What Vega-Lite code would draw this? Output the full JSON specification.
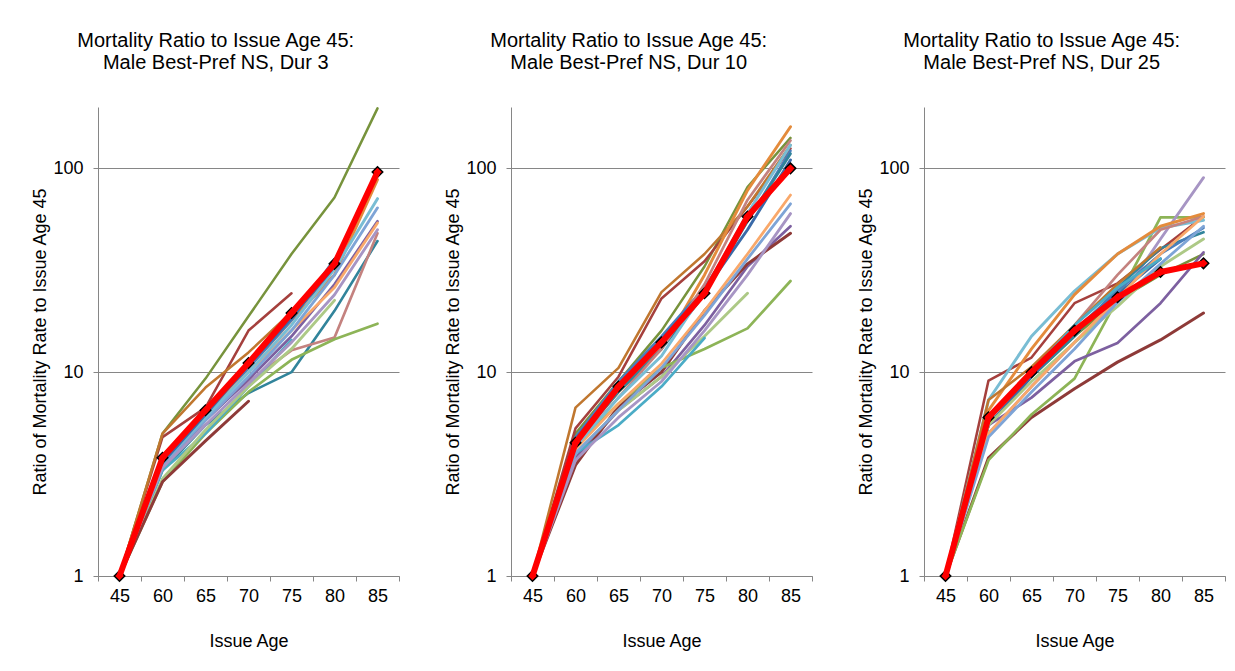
{
  "$schema": "https://vega.github.io/schema/vega-lite/v6.json",
  "padding": {"left": 31, "top": 31, "right": 5, "bottom": 5},
  "background": "white",
  "datasets": {
    "m": [
      {"d":3,"s":"X","a":45,"v":1},{"d":3,"s":"X","a":60,"v":3.8},{"d":3,"s":"X","a":65,"v":6.5},{"d":3,"s":"X","a":70,"v":11.1},{"d":3,"s":"X","a":75,"v":19.5},{"d":3,"s":"X","a":80,"v":34},{"d":3,"s":"X","a":85,"v":96},
      {"d":3,"s":"A","a":45,"v":1},{"d":3,"s":"A","a":60,"v":5.0},{"d":3,"s":"A","a":65,"v":9.3},{"d":3,"s":"A","a":70,"v":18.8},{"d":3,"s":"A","a":75,"v":38},{"d":3,"s":"A","a":80,"v":72},{"d":3,"s":"A","a":85,"v":197},
      {"d":3,"s":"B","a":45,"v":1},{"d":3,"s":"B","a":60,"v":4.8},{"d":3,"s":"B","a":65,"v":6.7},{"d":3,"s":"B","a":70,"v":16},{"d":3,"s":"B","a":75,"v":24.4},
      {"d":3,"s":"C","a":45,"v":1},{"d":3,"s":"C","a":60,"v":5.0},{"d":3,"s":"C","a":65,"v":8.4},{"d":3,"s":"C","a":70,"v":12.5},{"d":3,"s":"C","a":75,"v":19.7},{"d":3,"s":"C","a":80,"v":30},
      {"d":3,"s":"O","a":45,"v":1},{"d":3,"s":"O","a":60,"v":3.9},{"d":3,"s":"O","a":65,"v":6.5},{"d":3,"s":"O","a":70,"v":10.5},{"d":3,"s":"O","a":75,"v":18},{"d":3,"s":"O","a":80,"v":30},{"d":3,"s":"O","a":85,"v":88},
      {"d":3,"s":"D","a":45,"v":1},{"d":3,"s":"D","a":60,"v":3.6},{"d":3,"s":"D","a":65,"v":6.0},{"d":3,"s":"D","a":70,"v":10.5},{"d":3,"s":"D","a":75,"v":18},{"d":3,"s":"D","a":80,"v":36},
      {"d":3,"s":"E","a":45,"v":1},{"d":3,"s":"E","a":60,"v":3.3},{"d":3,"s":"E","a":65,"v":5.5},{"d":3,"s":"E","a":70,"v":7.9},{"d":3,"s":"E","a":75,"v":10},{"d":3,"s":"E","a":80,"v":20},{"d":3,"s":"E","a":85,"v":44},
      {"d":3,"s":"F","a":45,"v":1},{"d":3,"s":"F","a":60,"v":3.5},{"d":3,"s":"F","a":65,"v":6.2},{"d":3,"s":"F","a":70,"v":9},{"d":3,"s":"F","a":75,"v":12.8},{"d":3,"s":"F","a":80,"v":14.8},{"d":3,"s":"F","a":85,"v":48},
      {"d":3,"s":"G","a":45,"v":1},{"d":3,"s":"G","a":60,"v":3.4},{"d":3,"s":"G","a":65,"v":5.8},{"d":3,"s":"G","a":70,"v":9.2},{"d":3,"s":"G","a":75,"v":15},{"d":3,"s":"G","a":80,"v":27},{"d":3,"s":"G","a":85,"v":55},
      {"d":3,"s":"H","a":45,"v":1},{"d":3,"s":"H","a":60,"v":2.9},{"d":3,"s":"H","a":65,"v":5.0},{"d":3,"s":"H","a":70,"v":8.0},{"d":3,"s":"H","a":75,"v":11.5},{"d":3,"s":"H","a":80,"v":14.5},{"d":3,"s":"H","a":85,"v":17.3},
      {"d":3,"s":"I","a":45,"v":1},{"d":3,"s":"I","a":60,"v":3.3},{"d":3,"s":"I","a":65,"v":5.0},{"d":3,"s":"I","a":70,"v":8.5},{"d":3,"s":"I","a":75,"v":14.4},
      {"d":3,"s":"J","a":45,"v":1},{"d":3,"s":"J","a":60,"v":3.7},{"d":3,"s":"J","a":65,"v":6.2},{"d":3,"s":"J","a":70,"v":10},{"d":3,"s":"J","a":75,"v":16},{"d":3,"s":"J","a":80,"v":26},{"d":3,"s":"J","a":85,"v":54},
      {"d":3,"s":"K","a":45,"v":1},{"d":3,"s":"K","a":60,"v":3.5},{"d":3,"s":"K","a":65,"v":5.8},{"d":3,"s":"K","a":70,"v":9.5},{"d":3,"s":"K","a":75,"v":16},{"d":3,"s":"K","a":80,"v":30},{"d":3,"s":"K","a":85,"v":64},
      {"d":3,"s":"P","a":45,"v":1},{"d":3,"s":"P","a":60,"v":3.6},{"d":3,"s":"P","a":65,"v":6},{"d":3,"s":"P","a":70,"v":10},{"d":3,"s":"P","a":75,"v":17},{"d":3,"s":"P","a":80,"v":32},{"d":3,"s":"P","a":85,"v":71},
      {"d":3,"s":"M","a":45,"v":1},{"d":3,"s":"M","a":60,"v":3.0},{"d":3,"s":"M","a":65,"v":5.2},{"d":3,"s":"M","a":70,"v":8.5},{"d":3,"s":"M","a":75,"v":13},{"d":3,"s":"M","a":80,"v":22.5},
      {"d":3,"s":"N","a":45,"v":1},{"d":3,"s":"N","a":60,"v":3.6},{"d":3,"s":"N","a":65,"v":6.2},{"d":3,"s":"N","a":70,"v":10.8},{"d":3,"s":"N","a":75,"v":18.5},{"d":3,"s":"N","a":80,"v":33},
      {"d":3,"s":"Q","a":45,"v":1},{"d":3,"s":"Q","a":60,"v":2.9},{"d":3,"s":"Q","a":65,"v":4.6},{"d":3,"s":"Q","a":70,"v":7.2},
      {"d":3,"s":"L","a":45,"v":1},{"d":3,"s":"L","a":60,"v":3.4},{"d":3,"s":"L","a":65,"v":5.5},{"d":3,"s":"L","a":70,"v":8.8},{"d":3,"s":"L","a":75,"v":14},{"d":3,"s":"L","a":80,"v":24},{"d":3,"s":"L","a":85,"v":50},

      {"d":10,"s":"X","a":45,"v":1},{"d":10,"s":"X","a":60,"v":4.5},{"d":10,"s":"X","a":65,"v":8.5},{"d":10,"s":"X","a":70,"v":14},{"d":10,"s":"X","a":75,"v":24.4},{"d":10,"s":"X","a":80,"v":58},{"d":10,"s":"X","a":85,"v":100},
      {"d":10,"s":"A","a":45,"v":1},{"d":10,"s":"A","a":60,"v":5.0},{"d":10,"s":"A","a":65,"v":9},{"d":10,"s":"A","a":70,"v":16},{"d":10,"s":"A","a":75,"v":33},{"d":10,"s":"A","a":80,"v":81},{"d":10,"s":"A","a":85,"v":141},
      {"d":10,"s":"B","a":45,"v":1},{"d":10,"s":"B","a":60,"v":5.3},{"d":10,"s":"B","a":65,"v":9.5},{"d":10,"s":"B","a":70,"v":23},{"d":10,"s":"B","a":75,"v":35},{"d":10,"s":"B","a":80,"v":65},{"d":10,"s":"B","a":85,"v":125},
      {"d":10,"s":"C","a":45,"v":1},{"d":10,"s":"C","a":60,"v":6.7},{"d":10,"s":"C","a":65,"v":10.5},{"d":10,"s":"C","a":70,"v":24.7},{"d":10,"s":"C","a":75,"v":38},{"d":10,"s":"C","a":80,"v":65},{"d":10,"s":"C","a":85,"v":130},
      {"d":10,"s":"O","a":45,"v":1},{"d":10,"s":"O","a":60,"v":4.6},{"d":10,"s":"O","a":65,"v":8},{"d":10,"s":"O","a":70,"v":13},{"d":10,"s":"O","a":75,"v":30},{"d":10,"s":"O","a":80,"v":78},{"d":10,"s":"O","a":85,"v":160},
      {"d":10,"s":"D","a":45,"v":1},{"d":10,"s":"D","a":60,"v":4.8},{"d":10,"s":"D","a":65,"v":9},{"d":10,"s":"D","a":70,"v":15},{"d":10,"s":"D","a":75,"v":26},{"d":10,"s":"D","a":80,"v":55},{"d":10,"s":"D","a":85,"v":122},
      {"d":10,"s":"E","a":45,"v":1},{"d":10,"s":"E","a":60,"v":4.5},{"d":10,"s":"E","a":65,"v":8},{"d":10,"s":"E","a":70,"v":13},{"d":10,"s":"E","a":75,"v":24},{"d":10,"s":"E","a":80,"v":55},{"d":10,"s":"E","a":85,"v":118},
      {"d":10,"s":"F","a":45,"v":1},{"d":10,"s":"F","a":60,"v":4.4},{"d":10,"s":"F","a":65,"v":7.5},{"d":10,"s":"F","a":70,"v":13},{"d":10,"s":"F","a":75,"v":27},{"d":10,"s":"F","a":80,"v":70},{"d":10,"s":"F","a":85,"v":137},
      {"d":10,"s":"G","a":45,"v":1},{"d":10,"s":"G","a":60,"v":3.8},{"d":10,"s":"G","a":65,"v":6.5},{"d":10,"s":"G","a":70,"v":9.5},{"d":10,"s":"G","a":75,"v":17},{"d":10,"s":"G","a":80,"v":33},{"d":10,"s":"G","a":85,"v":52},
      {"d":10,"s":"Q","a":45,"v":1},{"d":10,"s":"Q","a":60,"v":3.5},{"d":10,"s":"Q","a":65,"v":6.8},{"d":10,"s":"Q","a":70,"v":10},{"d":10,"s":"Q","a":75,"v":20},{"d":10,"s":"Q","a":80,"v":34},{"d":10,"s":"Q","a":85,"v":48},
      {"d":10,"s":"H","a":45,"v":1},{"d":10,"s":"H","a":60,"v":4.4},{"d":10,"s":"H","a":65,"v":7.0},{"d":10,"s":"H","a":70,"v":10.5},{"d":10,"s":"H","a":75,"v":13},{"d":10,"s":"H","a":80,"v":16.4},{"d":10,"s":"H","a":85,"v":28},
      {"d":10,"s":"M","a":45,"v":1},{"d":10,"s":"M","a":60,"v":4.0},{"d":10,"s":"M","a":65,"v":6.5},{"d":10,"s":"M","a":70,"v":9.5},{"d":10,"s":"M","a":75,"v":15},{"d":10,"s":"M","a":80,"v":24.4},
      {"d":10,"s":"I","a":45,"v":1},{"d":10,"s":"I","a":60,"v":4.0},{"d":10,"s":"I","a":65,"v":5.5},{"d":10,"s":"I","a":70,"v":8.5},{"d":10,"s":"I","a":75,"v":14.7},
      {"d":10,"s":"J","a":45,"v":1},{"d":10,"s":"J","a":60,"v":4.2},{"d":10,"s":"J","a":65,"v":7},{"d":10,"s":"J","a":70,"v":11},{"d":10,"s":"J","a":75,"v":20},{"d":10,"s":"J","a":80,"v":38},{"d":10,"s":"J","a":85,"v":74},
      {"d":10,"s":"K","a":45,"v":1},{"d":10,"s":"K","a":60,"v":4.0},{"d":10,"s":"K","a":65,"v":6.5},{"d":10,"s":"K","a":70,"v":10.5},{"d":10,"s":"K","a":75,"v":19},{"d":10,"s":"K","a":80,"v":36},{"d":10,"s":"K","a":85,"v":67},
      {"d":10,"s":"P","a":45,"v":1},{"d":10,"s":"P","a":60,"v":4.3},{"d":10,"s":"P","a":65,"v":7.5},{"d":10,"s":"P","a":70,"v":12},{"d":10,"s":"P","a":75,"v":25},{"d":10,"s":"P","a":80,"v":60},{"d":10,"s":"P","a":85,"v":130},
      {"d":10,"s":"N","a":45,"v":1},{"d":10,"s":"N","a":60,"v":4.7},{"d":10,"s":"N","a":65,"v":8.5},{"d":10,"s":"N","a":70,"v":14.5},{"d":10,"s":"N","a":75,"v":25},{"d":10,"s":"N","a":80,"v":50},{"d":10,"s":"N","a":85,"v":110},
      {"d":10,"s":"L","a":45,"v":1},{"d":10,"s":"L","a":60,"v":3.7},{"d":10,"s":"L","a":65,"v":6},{"d":10,"s":"L","a":70,"v":9},{"d":10,"s":"L","a":75,"v":16},{"d":10,"s":"L","a":80,"v":30},{"d":10,"s":"L","a":85,"v":60},

      {"d":25,"s":"X","a":45,"v":1},{"d":25,"s":"X","a":60,"v":6},{"d":25,"s":"X","a":65,"v":10},{"d":25,"s":"X","a":70,"v":16},{"d":25,"s":"X","a":75,"v":23.3},{"d":25,"s":"X","a":80,"v":31},{"d":25,"s":"X","a":85,"v":34.2},
      {"d":25,"s":"A","a":45,"v":1},{"d":25,"s":"A","a":60,"v":5.5},{"d":25,"s":"A","a":65,"v":9.5},{"d":25,"s":"A","a":70,"v":15},{"d":25,"s":"A","a":75,"v":22.5},{"d":25,"s":"A","a":80,"v":30},{"d":25,"s":"A","a":85,"v":38},
      {"d":25,"s":"Q","a":45,"v":1},{"d":25,"s":"Q","a":60,"v":3.8},{"d":25,"s":"Q","a":65,"v":6.0},{"d":25,"s":"Q","a":70,"v":8.3},{"d":25,"s":"Q","a":75,"v":11.2},{"d":25,"s":"Q","a":80,"v":14.4},{"d":25,"s":"Q","a":85,"v":19.5},
      {"d":25,"s":"B","a":45,"v":1},{"d":25,"s":"B","a":60,"v":9.1},{"d":25,"s":"B","a":65,"v":11.8},{"d":25,"s":"B","a":70,"v":21.8},{"d":25,"s":"B","a":75,"v":27.3},{"d":25,"s":"B","a":80,"v":40},{"d":25,"s":"B","a":85,"v":58},
      {"d":25,"s":"H","a":45,"v":1},{"d":25,"s":"H","a":60,"v":3.7},{"d":25,"s":"H","a":65,"v":6.2},{"d":25,"s":"H","a":70,"v":9.3},{"d":25,"s":"H","a":75,"v":22.8},{"d":25,"s":"H","a":80,"v":57.5},{"d":25,"s":"H","a":85,"v":57.5},
      {"d":25,"s":"G","a":45,"v":1},{"d":25,"s":"G","a":60,"v":5.5},{"d":25,"s":"G","a":65,"v":7.5},{"d":25,"s":"G","a":70,"v":11.3},{"d":25,"s":"G","a":75,"v":13.9},{"d":25,"s":"G","a":80,"v":21.8},{"d":25,"s":"G","a":85,"v":38.7},
      {"d":25,"s":"L","a":45,"v":1},{"d":25,"s":"L","a":60,"v":5.0},{"d":25,"s":"L","a":65,"v":8.5},{"d":25,"s":"L","a":70,"v":14},{"d":25,"s":"L","a":75,"v":22},{"d":25,"s":"L","a":80,"v":45},{"d":25,"s":"L","a":85,"v":90},
      {"d":25,"s":"P","a":45,"v":1},{"d":25,"s":"P","a":60,"v":7.3},{"d":25,"s":"P","a":65,"v":15},{"d":25,"s":"P","a":70,"v":25},{"d":25,"s":"P","a":75,"v":38},{"d":25,"s":"P","a":80,"v":51},{"d":25,"s":"P","a":85,"v":55.6},
      {"d":25,"s":"O","a":45,"v":1},{"d":25,"s":"O","a":60,"v":6.5},{"d":25,"s":"O","a":65,"v":13},{"d":25,"s":"O","a":70,"v":24},{"d":25,"s":"O","a":75,"v":38},{"d":25,"s":"O","a":80,"v":52},{"d":25,"s":"O","a":85,"v":60},
      {"d":25,"s":"F","a":45,"v":1},{"d":25,"s":"F","a":60,"v":6},{"d":25,"s":"F","a":65,"v":10},{"d":25,"s":"F","a":70,"v":17},{"d":25,"s":"F","a":75,"v":30},{"d":25,"s":"F","a":80,"v":50},{"d":25,"s":"F","a":85,"v":58},
      {"d":25,"s":"E","a":45,"v":1},{"d":25,"s":"E","a":60,"v":5.5},{"d":25,"s":"E","a":65,"v":9.5},{"d":25,"s":"E","a":70,"v":15},{"d":25,"s":"E","a":75,"v":26},{"d":25,"s":"E","a":80,"v":40.5},{"d":25,"s":"E","a":85,"v":48.6},
      {"d":25,"s":"D","a":45,"v":1},{"d":25,"s":"D","a":60,"v":5.8},{"d":25,"s":"D","a":65,"v":10},{"d":25,"s":"D","a":70,"v":16},{"d":25,"s":"D","a":75,"v":25},{"d":25,"s":"D","a":80,"v":38},{"d":25,"s":"D","a":85,"v":51},
      {"d":25,"s":"N","a":45,"v":1},{"d":25,"s":"N","a":60,"v":5.5},{"d":25,"s":"N","a":65,"v":9.5},{"d":25,"s":"N","a":70,"v":16},{"d":25,"s":"N","a":75,"v":24},{"d":25,"s":"N","a":80,"v":36},
      {"d":25,"s":"C","a":45,"v":1},{"d":25,"s":"C","a":60,"v":7.3},{"d":25,"s":"C","a":65,"v":10.6},{"d":25,"s":"C","a":70,"v":17},{"d":25,"s":"C","a":75,"v":27},{"d":25,"s":"C","a":80,"v":41},
      {"d":25,"s":"M","a":45,"v":1},{"d":25,"s":"M","a":60,"v":5.5},{"d":25,"s":"M","a":65,"v":9},{"d":25,"s":"M","a":70,"v":14},{"d":25,"s":"M","a":75,"v":21},{"d":25,"s":"M","a":80,"v":33},{"d":25,"s":"M","a":85,"v":45},
      {"d":25,"s":"J","a":45,"v":1},{"d":25,"s":"J","a":60,"v":5.0},{"d":25,"s":"J","a":65,"v":8.5},{"d":25,"s":"J","a":70,"v":14},{"d":25,"s":"J","a":75,"v":23},{"d":25,"s":"J","a":80,"v":38},{"d":25,"s":"J","a":85,"v":58},
      {"d":25,"s":"K","a":45,"v":1},{"d":25,"s":"K","a":60,"v":4.8},{"d":25,"s":"K","a":65,"v":8},{"d":25,"s":"K","a":70,"v":13},{"d":25,"s":"K","a":75,"v":22},{"d":25,"s":"K","a":80,"v":34},{"d":25,"s":"K","a":85,"v":52},
      {"d":25,"s":"I","a":45,"v":1},{"d":25,"s":"I","a":60,"v":6},{"d":25,"s":"I","a":65,"v":10},{"d":25,"s":"I","a":70,"v":17},{"d":25,"s":"I","a":75,"v":26},{"d":25,"s":"I","a":80,"v":36}
    ]
  },
  "spacing": 112,
  "bounds": "flush",
  "hconcat": [
    {
      "width": 301, "height": 469,
      "data": {"name": "m"},
      "transform": [{"filter": "datum.d == 3"}],
      "title": {"text": ["Mortality Ratio to Issue Age 45:", "Male Best-Pref NS, Dur 3"]},
      "encoding": {
        "x": {"field": "a", "type": "ordinal", "bandPosition": 0.5, "scale": {"type": "band", "paddingInner": 0, "paddingOuter": 0}, "axis": {"title": "Issue Age"}},
        "y": {"field": "v", "type": "quantitative", "scale": {"type": "log", "domain": [1, 200]}, "axis": {"title": "Ratio of Mortality Rate to Issue Age 45", "values": [1, 10, 100], "format": "d"}}
      },
      "layer": [
        {"transform": [{"filter": "datum.s != 'X'"}], "mark": {"type": "line", "strokeCap": "round", "strokeJoin": "round"},
         "encoding": {
           "color": {"field": "s", "type": "nominal", "legend": null, "scale": {"domain": ["A","B","C","D","E","F","G","H","I","J","K","L","M","N","O","P","Q"], "range": ["#77933C","#A5403D","#C0772F","#4A7EBB","#31849B","#C4827F","#7D60A0","#8DB457","#4BACC6","#F9A86A","#7EA4D6","#A795C4","#ADC986","#3A6AA8","#E48B3C","#79BDD4","#8E3A38"]}},
           "strokeWidth": {"field": "s", "type": "nominal", "legend": null, "scale": {"domain": ["A","B","C","D","E","F","G","H","I","J","K","L","M","N","O","P","Q"], "range": [2.5,3,4,5,2.5,3,2.5,3,5,3.5,4,2,3,3.5,3,3,3.5]}}
         }},
        {"transform": [{"filter": "datum.s == 'X'"}], "mark": {"type": "point", "shape": "diamond", "filled": true, "fill": "#FF0000", "stroke": "#000000", "strokeWidth": 1.5, "size": 110, "opacity": 1}},
        {"transform": [{"filter": "datum.s == 'X'"}], "mark": {"type": "line", "color": "#FF0000", "strokeWidth": 6, "strokeCap": "butt", "strokeJoin": "round"}}
      ]
    },
    {
      "width": 301, "height": 469,
      "data": {"name": "m"},
      "transform": [{"filter": "datum.d == 10"}],
      "title": {"text": ["Mortality Ratio to Issue Age 45:", "Male Best-Pref NS, Dur 10"]},
      "encoding": {
        "x": {"field": "a", "type": "ordinal", "bandPosition": 0.5, "scale": {"type": "band", "paddingInner": 0, "paddingOuter": 0}, "axis": {"title": "Issue Age"}},
        "y": {"field": "v", "type": "quantitative", "scale": {"type": "log", "domain": [1, 200]}, "axis": {"title": "Ratio of Mortality Rate to Issue Age 45", "values": [1, 10, 100], "format": "d"}}
      },
      "layer": [
        {"transform": [{"filter": "datum.s != 'X'"}], "mark": {"type": "line", "strokeCap": "round", "strokeJoin": "round"},
         "encoding": {
           "color": {"field": "s", "type": "nominal", "legend": null, "scale": {"domain": ["A","B","C","D","E","F","G","H","I","J","K","L","M","N","O","P","Q"], "range": ["#77933C","#A5403D","#C0772F","#4A7EBB","#31849B","#C4827F","#7D60A0","#8DB457","#4BACC6","#F9A86A","#7EA4D6","#A795C4","#ADC986","#3A6AA8","#E48B3C","#79BDD4","#8E3A38"]}},
           "strokeWidth": {"field": "s", "type": "nominal", "legend": null, "scale": {"domain": ["A","B","C","D","E","F","G","H","I","J","K","L","M","N","O","P","Q"], "range": [2.5,3,4,5,2.5,3,2.5,3,5,3.5,4,2,3,3.5,3,3,3.5]}}
         }},
        {"transform": [{"filter": "datum.s == 'X'"}], "mark": {"type": "point", "shape": "diamond", "filled": true, "fill": "#FF0000", "stroke": "#000000", "strokeWidth": 1.5, "size": 110, "opacity": 1}},
        {"transform": [{"filter": "datum.s == 'X'"}], "mark": {"type": "line", "color": "#FF0000", "strokeWidth": 6, "strokeCap": "butt", "strokeJoin": "round"}}
      ]
    },
    {
      "width": 301, "height": 469,
      "data": {"name": "m"},
      "transform": [{"filter": "datum.d == 25"}],
      "title": {"text": ["Mortality Ratio to Issue Age 45:", "Male Best-Pref NS, Dur 25"]},
      "encoding": {
        "x": {"field": "a", "type": "ordinal", "bandPosition": 0.5, "scale": {"type": "band", "paddingInner": 0, "paddingOuter": 0}, "axis": {"title": "Issue Age"}},
        "y": {"field": "v", "type": "quantitative", "scale": {"type": "log", "domain": [1, 200]}, "axis": {"title": "Ratio of Mortality Rate to Issue Age 45", "values": [1, 10, 100], "format": "d"}}
      },
      "layer": [
        {"transform": [{"filter": "datum.s != 'X'"}], "mark": {"type": "line", "strokeCap": "round", "strokeJoin": "round"},
         "encoding": {
           "color": {"field": "s", "type": "nominal", "legend": null, "scale": {"domain": ["A","B","C","D","E","F","G","H","I","J","K","L","M","N","O","P","Q"], "range": ["#77933C","#A5403D","#C0772F","#4A7EBB","#31849B","#C4827F","#7D60A0","#8DB457","#4BACC6","#F9A86A","#7EA4D6","#A795C4","#ADC986","#3A6AA8","#E48B3C","#79BDD4","#8E3A38"]}},
           "strokeWidth": {"field": "s", "type": "nominal", "legend": null, "scale": {"domain": ["A","B","C","D","E","F","G","H","I","J","K","L","M","N","O","P","Q"], "range": [2.5,3,4,5,2.5,3,2.5,3,5,3.5,4,2,3,3.5,3,3,3.5]}}
         }},
        {"transform": [{"filter": "datum.s == 'X'"}], "mark": {"type": "point", "shape": "diamond", "filled": true, "fill": "#FF0000", "stroke": "#000000", "strokeWidth": 1.5, "size": 110, "opacity": 1}},
        {"transform": [{"filter": "datum.s == 'X'"}], "mark": {"type": "line", "color": "#FF0000", "strokeWidth": 6, "strokeCap": "butt", "strokeJoin": "round"}}
      ]
    }
  ],
  "config": {
    "font": "Liberation Sans",
    "view": {"stroke": null},
    "axis": {
      "labelFont": "Liberation Sans", "titleFont": "Liberation Sans",
      "labelFontSize": 18, "titleFontSize": 18, "titleFontWeight": "normal",
      "labelColor": "#000000", "titleColor": "#000000",
      "domainColor": "#868686", "tickColor": "#868686", "gridColor": "#868686",
      "domainWidth": 1, "tickWidth": 1, "gridWidth": 1, "tickSize": 5
    },
    "axisX": {"tickBand": "extent", "labelAngle": 0, "grid": false, "labelPadding": 6, "titlePadding": 27},
    "axisY": {"grid": true, "labelPadding": 10, "titlePadding": 3},
    "title": {"font": "Liberation Sans", "fontSize": 20, "fontWeight": "normal", "color": "#000000", "lineHeight": 22, "offset": 34, "frame": "bounds", "anchor": "middle"}
  }
}
